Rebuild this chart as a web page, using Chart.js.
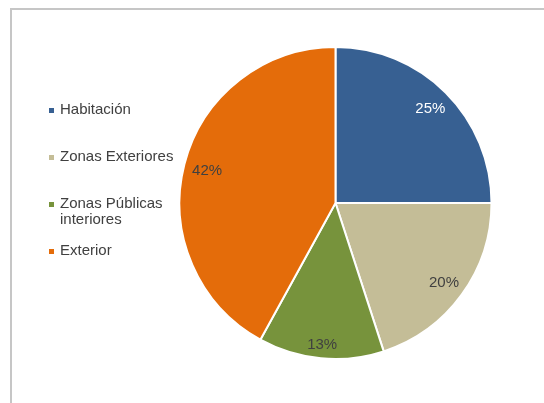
<!DOCTYPE html>
<html>
<head>
<meta charset="utf-8">
<script src="https://cdn.jsdelivr.net/npm/chart.js@4/dist/chart.umd.min.js"></script>
<style>
html, body { margin: 0; padding: 0; background: #fff; overflow: hidden; }
#frame { position: absolute; left: 10px; top: 8px; width: 600px; height: 500px;
  border-left: 2px solid #c6c6c6; border-top: 2px solid #c6c6c6; }
canvas { position: absolute; left: 0; top: 0; }
</style>
</head>
<body>
<div id="frame"></div>
<canvas id="pie-chart" width="544" height="403"></canvas>
<script>
var categories = ['Habitación', 'Zonas Exteriores', 'Zonas Públicas interiores', 'Exterior'];
var shares = [25, 20, 13, 42];
var sliceColors = ['#376092', '#C4BD97', '#77933C', '#E46C0A'];
var labelColors = ['#ffffff', '#404040', '#404040', '#404040'];
// how far out (share of the radius) each percentage sits
var labelRadius = [0.86, 0.86, 0.91, 0.85];

var FONT = '15px "Liberation Sans", Arial, sans-serif';

// percentage text inside each slice
var sliceLabels = {
	id: 'sliceLabels',
	afterDatasetsDraw: function(chart) {
		var ctx = chart.ctx;
		var meta = chart.getDatasetMeta(0);
		ctx.save();
		ctx.font = FONT;
		ctx.textAlign = 'center';
		ctx.textBaseline = 'middle';
		meta.data.forEach(function(arc, i) {
			var p = arc.getProps(['x', 'y', 'startAngle', 'endAngle', 'outerRadius'], true);
			var mid = (p.startAngle + p.endAngle) / 2;
			var r = p.outerRadius * labelRadius[i];
			ctx.fillStyle = labelColors[i];
			ctx.fillText(shares[i] + '%', p.x + Math.cos(mid) * r, p.y + Math.sin(mid) * r + 1);
		});
		ctx.restore();
	}
};

// legend on the left, long names wrapped
var sideLegend = {
	id: 'sideLegend',
	afterDraw: function(chart) {
		var ctx = chart.ctx;
		var maxWidth = 122, lineHeight = 16, step = 47;
		ctx.save();
		ctx.font = FONT;
		ctx.textAlign = 'left';
		ctx.textBaseline = 'middle';
		chart.data.labels.forEach(function(name, i) {
			var y = 110 + i * step;
			var lines = [], line = '';
			name.split(' ').forEach(function(word) {
				var test = line ? line + ' ' + word : word;
				if (line && ctx.measureText(test).width > maxWidth) {
					lines.push(line);
					line = word;
				} else {
					line = test;
				}
			});
			lines.push(line);
			ctx.fillStyle = sliceColors[i];
			ctx.fillRect(49, y - 2, 5, 5);
			ctx.fillStyle = '#404040';
			lines.forEach(function(t, j) {
				ctx.fillText(t, 60, y + j * lineHeight);
			});
		});
		ctx.restore();
	}
};

new Chart(document.getElementById('pie-chart'), {
	type: 'pie',
	data: {
		labels: categories,
		datasets: [{
			data: shares,
			backgroundColor: sliceColors,
			borderColor: '#ffffff',
			borderWidth: 2
		}]
	},
	options: {
		responsive: false,
		animation: false,
		layout: {
			padding: { left: 178, right: 51, top: 46, bottom: 43 }
		},
		plugins: {
			legend: { display: false },
			tooltip: { enabled: false }
		}
	},
	plugins: [sliceLabels, sideLegend]
});
</script>
</body>
</html>
